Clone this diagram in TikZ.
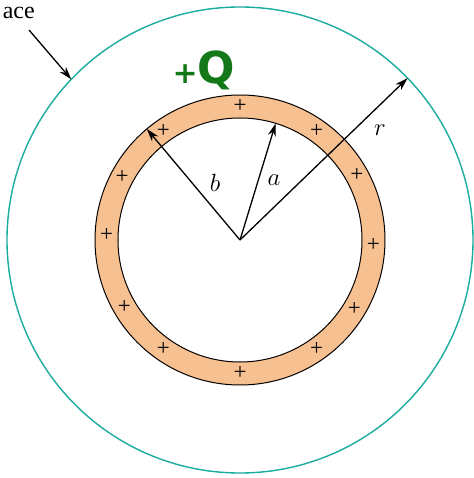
\documentclass[tikz,border=0pt]{standalone}
\usepackage{fontspec}
\setmainfont{Liberation Serif}
\newfontfamily\qfont{DejaVu Sans}
\usetikzlibrary{arrows.meta}
\definecolor{ringfill}{RGB}{247,192,145}
\definecolor{gausscol}{RGB}{25,172,158}
\definecolor{qgreen}{RGB}{18,120,24}
\tikzset{
  vec/.style={line width=1.3pt,-{Stealth[length=13pt,width=8pt]}},
  plussign/.style={font=\fontsize{23}{23}\selectfont\rmfamily, inner sep=0pt},
  lbl/.style={font=\fontsize{25}{25}\selectfont, inner sep=0pt}
}
\begin{document}
\begin{tikzpicture}[x=1pt,y=1pt]
\useasboundingbox (-240,-238) rectangle (233,240);
\coordinate (O) at (0,0);
% Gaussian surface
\draw[gausscol, line width=1.4pt] (O) circle (233);
% ring
\fill[ringfill, even odd rule] (O) circle (145) (O) circle (122);
\draw[line width=1pt] (O) circle (145);
\draw[line width=1pt] (O) circle (122);
% plus charges
\foreach \ang [count=\i] in {90,125,55,152,29,178,-2,210,-31,235,-55,-90}
  \node[plussign] (p\i) at (\ang:133.5) {+};
% radii
\coordinate (B) at (130:145);
\coordinate (A) at (73:122);
\coordinate (R) at (44:233);
\draw[vec] (O) -- (B);
\draw[vec] (O) -- (A);
\draw[vec] (O) -- (R);
\node[lbl] (lb) at (-25,57) {$b$};
\node[lbl] (la) at (34,60) {$a$};
\node[lbl] (lr) at (140,110) {$r$};
% charge label
\node[text=qgreen, inner sep=0pt] (q) at (-36,170)
  {\qfont\bfseries{\fontsize{30}{30}\selectfont +}{\fontsize{44}{44}\selectfont Q}};
% surface label
\node[anchor=base east, inner sep=0pt, font=\fontsize{24}{24}\selectfont] (sl) at (-205,221) {ace};
\coordinate (S) at (136.4:233);
\coordinate (St) at (-211,210);
\draw[vec] (St) -- (S);
\end{tikzpicture}
\end{document}
